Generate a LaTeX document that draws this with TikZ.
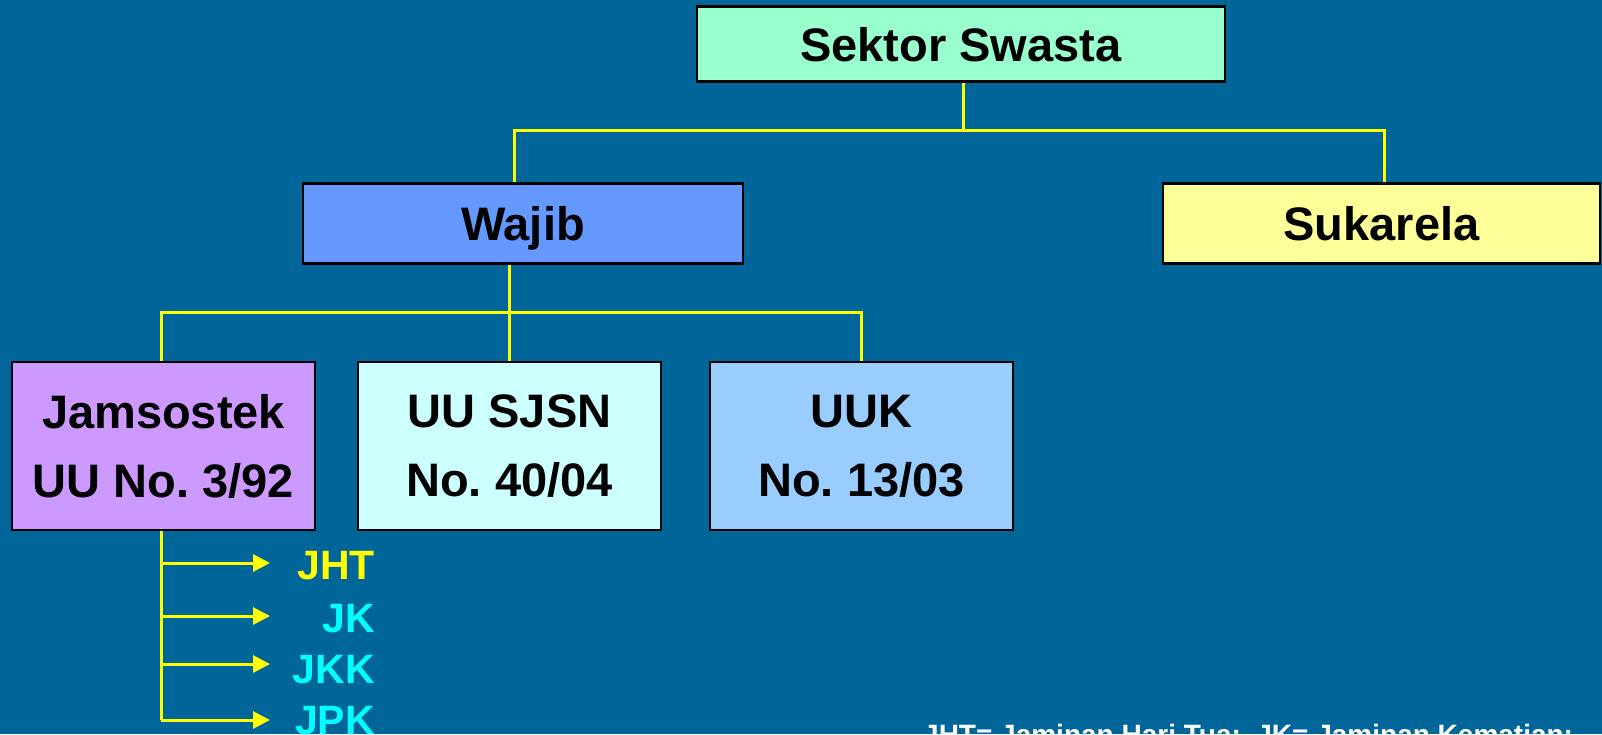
\documentclass[tikz,border=0pt]{standalone}
\usepackage{fontspec}
\setmainfont{Liberation Sans}
\usetikzlibrary{arrows.meta}
\frenchspacing
\definecolor{bg}{HTML}{006699}
\definecolor{ssgreen}{HTML}{99FFCC}
\definecolor{wajibblue}{HTML}{6699FF}
\definecolor{sukyellow}{HTML}{FFFF99}
\definecolor{jampurple}{HTML}{CC99FF}
\definecolor{sjsncyan}{HTML}{CCFFFF}
\definecolor{uukblue}{HTML}{99CCFF}
\definecolor{lineyellow}{HTML}{FFFF00}
\definecolor{lblcyan}{HTML}{00FFFF}
\begin{document}
\begin{tikzpicture}[x=1pt,y=-1pt,
  box/.style={draw=black, line width=2.5pt, inner sep=0pt, align=center,
    font=\bfseries\fontsize{47}{69}\selectfont},
  onebox/.style={box, text height=34pt, text depth=0pt},
  conn/.style={draw=lineyellow, line width=3pt},
  arr/.style={conn, -{Triangle[length=17pt,width=17pt]}},
  lbl/.style={font=\bfseries\fontsize{41}{41}\selectfont, anchor=base east, inner sep=0pt}]
\fill[bg] (0,0) rectangle (1602,734);
\useasboundingbox (0,0) rectangle (1602,734);
\clip (0,0) rectangle (1602,734);

% boxes
\node[onebox, fill=ssgreen, minimum width=528pt, minimum height=75pt] (ss) at (961,44) {Sektor Swasta};
\node[onebox, fill=wajibblue, minimum width=440pt, minimum height=80pt] (wajib) at (523,223.5) {Wajib};
\node[onebox, fill=sukyellow, minimum width=437pt, minimum height=80pt] (suk) at (1381.5,223.5) {Sukarela};
\node[box, fill=jampurple, minimum width=303pt, minimum height=168pt] (jam) at (163.5,446) {Jamsostek\\UU No. 3/92};
\node[box, fill=sjsncyan, minimum width=303pt, minimum height=168pt] (sjsn) at (509.5,446) {UU SJSN\\No. 40/04};
\node[box, fill=uukblue, minimum width=303pt, minimum height=168pt] (uuk) at (861.5,446) {UUK\\No. 13/03};

% upper bus
\coordinate (busA) at (963,130);
\coordinate (wIn) at (514,0);
\coordinate (sIn) at (1384,0);
\draw[conn] (ss.south -| busA) -- (busA);
\draw[conn] (wajib.north -| wIn) |- (busA) -| (suk.north -| sIn);

% lower bus
\coordinate (busB) at (509,312);
\coordinate (jx) at (161,0);
\draw[conn] (wajib.south -| busB) -- (busB);
\draw[conn] (jam.north -| jx) |- (busB) -| (uuk.north);
\draw[conn] (busB) -- (sjsn.north -| busB);

% Jamsostek branches
\coordinate (jend) at (161,720);
\coordinate (t1) at (270,563);
\coordinate (t2) at (270,616);
\coordinate (t3) at (270,664);
\coordinate (t4) at (270,720);
\draw[conn] (jam.south -| jend) -- (jend);
\draw[arr] (jend |- t1) -- (t1);
\draw[arr] (jend |- t2) -- (t2);
\draw[arr] (jend |- t3) -- (t3);
\draw[arr] (jend) -- (t4);

\node[lbl, text=lineyellow] (jht) at (375,579) {JHT};
\node[lbl, text=lblcyan] (jk) at (375,632) {JK};
\node[lbl, text=lblcyan] (jkk) at (375,683) {JKK};
\node[lbl, text=lblcyan] (jpk) at (375,734) {JPK};

% caption (cut off at the bottom edge, as in the reference)
\node[anchor=base west, text=white, inner sep=0pt,
  font=\bfseries\fontsize{28}{28}\selectfont] (cap) at (923,744) {JHT= Jaminan Hari Tua;\ \ JK= Jaminan Kematian;};
\end{tikzpicture}
\end{document}
